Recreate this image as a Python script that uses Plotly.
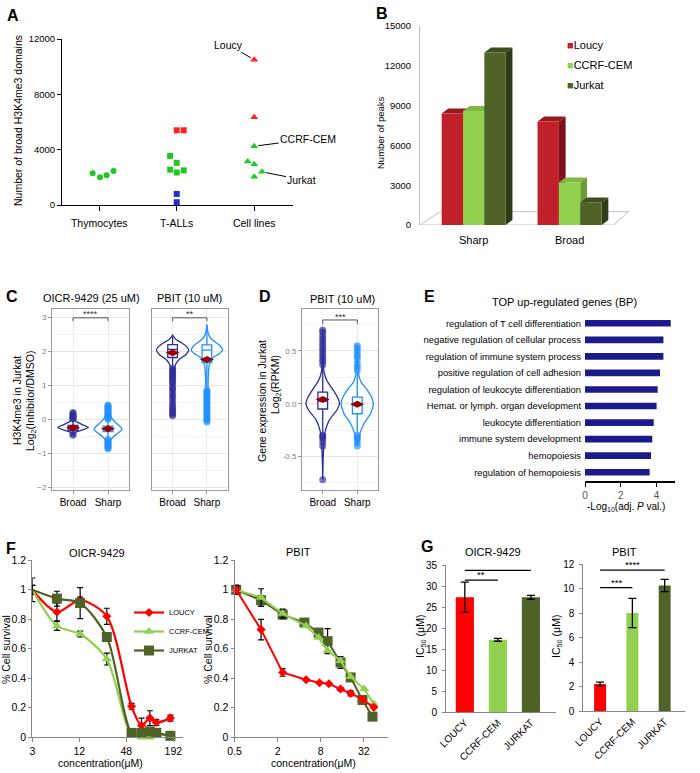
import math
import plotly.graph_objects as go

W, H = 700, 773
FONT = "Liberation Sans, Arial, sans-serif"


def xd(a, b):
    return [a / W, b / W]


def yd(a, b):
    return [1 - b / H, 1 - a / H]


def PX(x):
    return x / W


def PY(y):
    return 1 - y / H


# ====================== DATA ======================
# ---- Panel A ----
A_categories = ["Thymocytes", "T-ALLs", "Cell lines"]
A_thy_vals = [2300, 2000, 2150, 2450]
A_thy_jitter = [-0.085, 0.01, 0.095, 0.185]
A_tall_green_vals = [3550, 3050, 2550, 2350, 2500]
A_tall_green_jitter = [-0.085, 0.0, -0.085, 0.0, 0.09]
A_tall_red_vals = [5400, 5400]
A_tall_red_jitter = [0.0, 0.09]
A_tall_blue_vals = [800, 200]
A_tall_blue_jitter = [0.0, 0.0]
A_cell_red_vals = [10500, 6350]
A_cell_red_jitter = [0.0, 0.0]
A_cell_green_vals = [4250, 3150, 2950, 2050, 2400]
A_cell_green_jitter = [0.0, -0.085, 0.0, 0.0, 0.1]

# ---- Panel B ----
B_groups = ["Sharp", "Broad"]
B_series = ["Loucy", "CCRF-CEM", "Jurkat"]
B_loucy = [8400, 7800]
B_ccrf = [8600, 3200]
B_jurkat = [13000, 1700]

# ---- Panel C / D (violin outlines: y level, half width) ----
C_groups = ["Broad", "Sharp"]
C1_broad_prof_y = [0.15, 0.05, -0.05, -0.15, -0.245, -0.32, -0.38, -0.45]
C1_broad_prof_w = [0.0, 0.02, 0.08, 0.25, 0.44, 0.25, 0.08, 0.0]
C1_broad_box = [-0.45, -0.33, -0.245, -0.18, 0.02]
C1_broad_mean = -0.25
C1_broad_pts = [0.2, 0.17, 0.13, 0.1, 0.07, 0.05, 0.03, 0.01, -0.43, -0.47]

C1_sharp_prof_y = [0.42, 0.3, 0.15, 0.05, -0.1, -0.2, -0.3, -0.4, -0.5, -0.6, -0.75, -0.87]
C1_sharp_prof_w = [0.0, 0.03, 0.05, 0.1, 0.22, 0.33, 0.40, 0.30, 0.17, 0.08, 0.04, 0.0]
C1_sharp_box = [-0.58, -0.36, -0.28, -0.2, 0.0]
C1_sharp_mean = -0.28
C1_sharp_pts = [0.42, 0.39, 0.36, 0.33, 0.30, 0.27, 0.24, 0.21, 0.18, 0.15, 0.12, 0.09,
                0.06, 0.03, 0.0, -0.6, -0.63, -0.66, -0.69, -0.72, -0.75, -0.78, -0.81,
                -0.84, -0.87]

C2_broad_prof_y = [2.48, 2.35, 2.25, 2.14, 2.04, 1.91, 1.76, 1.6, 1.4, 1.0, 0.5, 0.1]
C2_broad_prof_w = [0.0, 0.1, 0.27, 0.41, 0.47, 0.39, 0.19, 0.08, 0.04, 0.02, 0.015, 0.0]
C2_broad_box = [1.4, 1.82, 2.06, 2.2, 2.45]
C2_broad_mean = 1.96
C2_broad_pts = [1.5, 1.45, 1.4, 1.35, 1.3, 1.25, 1.2, 1.15, 1.1, 1.05, 0.95, 0.9, 0.85,
                0.75, 0.68, 0.6, 0.5, 0.42, 0.35, 0.3, 0.25, 0.2, 0.15, 0.1]

C2_sharp_prof_y = [2.8, 2.53, 2.38, 2.28, 2.16, 2.04, 1.94, 1.84, 1.7, 1.55, 1.25, 0.86, 0.0, -0.1]
C2_sharp_prof_w = [0.0, 0.04, 0.12, 0.24, 0.39, 0.46, 0.37, 0.21, 0.10, 0.06, 0.04, 0.03, 0.02, 0.0]
C2_sharp_box = [0.95, 1.67, 2.04, 2.19, 2.75]
C2_sharp_mean = 1.76
C2_sharp_pts = [-0.08, -0.03, 0.02, 0.07, 0.12, 0.17, 0.22, 0.27, 0.32, 0.37, 0.42, 0.47,
                0.52, 0.57, 0.62, 0.67, 0.72, 0.77, 0.82, 0.86]

D_broad_prof_y = [0.7, 0.45, 0.3, 0.22, 0.16, 0.066, 0.0, -0.06, -0.155, -0.25, -0.345, -0.5, -0.72]
D_broad_prof_w = [0.0, 0.01, 0.04, 0.12, 0.24, 0.42, 0.485, 0.41, 0.19, 0.08, 0.04, 0.015, 0.0]
D_broad_box = [-0.3, -0.05, 0.025, 0.11, 0.36]
D_broad_mean = 0.04
D_broad_pts = [0.7, 0.68, 0.65, 0.62, 0.6, 0.57, 0.55, 0.52, 0.5, 0.47, 0.45, 0.42, 0.4,
               0.37, -0.3, -0.31, -0.33, -0.36, -0.4, -0.72]

D_sharp_prof_y = [0.55, 0.35, 0.25, 0.2, 0.13, 0.066, 0.0, -0.09, -0.19, -0.28, -0.36, -0.4]
D_sharp_prof_w = [0.0, 0.02, 0.06, 0.12, 0.29, 0.41, 0.465, 0.39, 0.19, 0.08, 0.03, 0.0]
D_sharp_box = [-0.28, -0.095, -0.01, 0.063, 0.3]
D_sharp_mean = -0.005
D_sharp_pts = [0.55, 0.53, 0.5, 0.47, 0.45, 0.42, 0.38, 0.35, 0.32, -0.3, -0.32, -0.34,
               -0.37, -0.4]

C_sig_labels = ["****", "**"]
C_sig_y = 2.99
D_sig_label = "***"
D_sig_y = 0.794

# ---- Panel E ----
E_terms = ["regulation of T cell differentiation",
           "negative regulation of cellular process",
           "regulation of immune system process",
           "positive regulation of cell adhesion",
           "regulation of leukocyte differentiation",
           "Hemat. or lymph. organ development",
           "leukocyte differentiation",
           "immune system development",
           "hemopoiesis",
           "regulation of hemopoiesis"]
E_vals = [4.79, 4.38, 4.38, 4.19, 4.06, 4.0, 3.84, 3.76, 3.69, 3.61]

# ---- Panel F ----
F_lines = ["LOUCY", "CCRF-CEM", "JURKAT"]
F1_conc = [3, 6.2, 12.3, 27, 56, 75, 96, 116, 176]
F1_loucy = [1.0, 0.85, 0.93, 0.82, 0.21, 0.08, 0.13, 0.10, 0.13]
F1_loucy_err = [0.03, 0.06, 0.02, 0.055, 0.02, 0.05, 0.05, 0.02, 0.02]
F1_ccrf = [1.0, 0.755, 0.70, 0.53, 0.01, 0.0, 0.0, 0.01, 0.02]
F1_ccrf_err = [0.03, 0.03, 0.02, 0.04, 0.01, 0.01, 0.01, 0.01, 0.01]
F1_jurkat = [1.0, 0.94, 0.91, 0.68, 0.03, 0.03, 0.04, 0.03, 0.01]
F1_jurkat_err = [0.08, 0.05, 0.105, 0.03, 0.02, 0.02, 0.02, 0.02, 0.01]

F2_loucy_conc = [0.527, 1.175, 2.35, 5.0, 7.68, 10.4, 15.1, 20.9, 30.6, 44.1]
F2_loucy = [1.0, 0.73, 0.44, 0.39, 0.37, 0.363, 0.327, 0.298, 0.257, 0.203]
F2_loucy_err = [0.03, 0.07, 0.026, 0.0, 0.0, 0.0, 0.01, 0.017, 0.0, 0.0]
F2_ccrf_conc = [0.527, 1.175, 2.35, 5.0, 7.45, 9.97, 15.1, 20.9, 32.3, 44.1]
F2_ccrf = [1.0, 0.947, 0.839, 0.755, 0.676, 0.586, 0.519, 0.41, 0.327, 0.225]
F2_ccrf_err = [0.02, 0.06, 0.03, 0.0, 0.0, 0.0, 0.0, 0.0, 0.0, 0.0]
F2_jurkat_conc = [0.527, 1.175, 2.35, 4.73, 7.45, 9.97, 15.1, 20.9, 30.6, 42.2]
F2_jurkat = [1.0, 0.929, 0.832, 0.778, 0.71, 0.652, 0.507, 0.406, 0.253, 0.14]
F2_jurkat_err = [0.03, 0.03, 0.03, 0.0, 0.0, 0.085, 0.04, 0.02, 0.0, 0.0]

# ---- Panel G ----
G_lines = ["LOUCY", "CCRF-CEM", "JURKAT"]
G_oicr = [27.3, 17.2, 27.3]
G_oicr_err = [3.6, 0.35, 0.45]
G_pbit = [2.2, 8.0, 10.25]
G_pbit_err = [0.15, 1.2, 0.5]
G_oicr_sig = [("**", 0, 1, 31.4), ("ns", 0, 2, 33.7)]
G_pbit_sig = [("***", 0, 1, 10.07), ("****", 0, 2, 11.5)]

# ====================== STYLE ======================
A_GREEN, A_RED, A_BLUE = "#22c822", "#ff2020", "#1f2fcf"
B_FRONT = ["#c0202a", "#92d050", "#4f6228"]
B_SIDE = ["#7e1218", "#6b9a36", "#2f3b17"]
B_TOP = ["#9c1820", "#7fb845", "#3d4d1f"]
C_BROAD, C_SHARP, C_MEAN = "#2e2e99", "#1e90ff", "#990000"
E_BAR = "#1a1a8c"
F_COL = ["#ff0000", "#92d050", "#4f6228"]
F_SYM = ["diamond", "triangle-up", "square"]
F_SIZE = [7, 9, 10]
AX_GRAY = "#868686"

fig = go.Figure()
shapes = []
ann = []


def text(t, x, y, size=10.5, angle=0, color="black", xanchor="center", yanchor="middle", bold=False):
    if bold:
        t = "<b>" + t + "</b>"
    ann.append(dict(text=t, x=PX(x), y=PY(y), xref="paper", yref="paper", showarrow=False,
                    textangle=angle, xanchor=xanchor, yanchor=yanchor,
                    font=dict(size=size, color=color, family=FONT)))


# ---------------- Panel A ----------------
A_pos = {c: i + 1 for i, c in enumerate(A_categories)}


def jit(cat, offs):
    return [A_pos[cat] + o for o in offs]


A_sets = [
    ("Thymocytes", A_thy_vals, A_thy_jitter, "circle", A_GREEN, 6),
    ("T-ALLs", A_tall_green_vals, A_tall_green_jitter, "square", A_GREEN, 6),
    ("T-ALLs", A_tall_red_vals, A_tall_red_jitter, "square", A_RED, 6),
    ("T-ALLs", A_tall_blue_vals, A_tall_blue_jitter, "square", A_BLUE, 6),
    ("Cell lines", A_cell_red_vals, A_cell_red_jitter, "triangle-up", A_RED, 7),
    ("Cell lines", A_cell_green_vals, A_cell_green_jitter, "triangle-up", A_GREEN, 7),
]
for cat, vals, offs, sym, col, sz in A_sets:
    fig.add_trace(go.Scatter(x=jit(cat, offs), y=vals, mode="markers",
                             marker=dict(symbol=sym, color=col, size=sz),
                             xaxis="x", yaxis="y", showlegend=False, cliponaxis=False))

A_label_points = [
    ("Loucy", A_pos["Cell lines"] + A_cell_red_jitter[0], A_cell_red_vals[0], -26, -15),
    ("CCRF-CEM", A_pos["Cell lines"] + A_cell_green_jitter[0], A_cell_green_vals[0], 54, -7),
    ("Jurkat", A_pos["Cell lines"] + A_cell_green_jitter[4], A_cell_green_vals[4], 40, 8),
]
for lab, x, y, ax, ay in A_label_points:
    ann.append(dict(text=lab, x=x, y=y, xref="x", yref="y", showarrow=True, arrowhead=0,
                    arrowwidth=1, arrowcolor="black", ax=ax, ay=ay, standoff=4,
                    font=dict(size=10.5, family=FONT, color="black")))

# ---------------- Panel B ----------------
B_vals = [B_loucy, B_ccrf, B_jurkat]
B_bargap = 0.332
bw = (1 - B_bargap) / 3
dx, dy = 0.07, 377
B_x = list(range(len(B_groups)))
# floor
shapes.append(dict(type="path", xref="x2", yref="y2", layer="below",
                   path="M -0.56,0 L 1.457,0 L 1.614,1003 L -0.35,1003 Z",
                   line=dict(color="#c0c0c0", width=1), fillcolor="white"))
for g in B_x:
    for i in range(3):
        v = B_vals[i][g]
        xc = g + (i - 1) * bw
        x0, x1 = xc - bw / 2, xc + bw / 2
        shapes.append(dict(type="path", xref="x2", yref="y2", layer="below",
                           path=f"M {x1},0 L {x1 + dx},{dy} L {x1 + dx},{v + dy} L {x1},{v} Z",
                           line=dict(width=0), fillcolor=B_SIDE[i]))
        shapes.append(dict(type="path", xref="x2", yref="y2", layer="below",
                           path=f"M {x0},{v} L {x0 + dx},{v + dy} L {x1 + dx},{v + dy} L {x1},{v} Z",
                           line=dict(width=0), fillcolor=B_TOP[i]))
for i, name in enumerate(B_series):
    fig.add_trace(go.Bar(x=B_x, y=B_vals[i], name=name, marker=dict(color=B_FRONT[i], line=dict(width=0)),
                         xaxis="x2", yaxis="y2", showlegend=False, offsetgroup=str(i)))
for i, name in enumerate(B_series):
    text(f"<span style='color:{B_FRONT[i]}'>■</span>{name}", 565, 45 + 20 * i, size=11, xanchor="left")


# ---------------- Panels C / D ----------------
def violin_set(xa, ya, xc, prof_y, prof_w, box, mean, pts, color):
    xs = [xc + w for w in prof_w] + [xc - w for w in reversed(prof_w)]
    ys = list(prof_y) + list(reversed(prof_y))
    xs.append(xs[0])
    ys.append(ys[0])
    fig.add_trace(go.Scatter(x=xs, y=ys, mode="lines",
                             line=dict(color=color, width=1.3, shape="spline", smoothing=0.7),
                             xaxis=xa, yaxis=ya, showlegend=False, hoverinfo="skip"))
    fig.add_trace(go.Scatter(x=[xc] * len(pts), y=pts, mode="markers",
                             marker=dict(color=color, size=7, opacity=0.65, line=dict(width=0)),
                             xaxis=xa, yaxis=ya, showlegend=False, cliponaxis=False))
    fig.add_trace(go.Box(x=[xc], lowerfence=[box[0]], q1=[box[1]], median=[box[2]], q3=[box[3]],
                         upperfence=[box[4]], width=0.28, fillcolor="white", whiskerwidth=0,
                         line=dict(color=color, width=1.3), boxpoints=False,
                         xaxis=xa, yaxis=ya, showlegend=False))
    fig.add_trace(go.Scatter(x=[xc], y=[mean], mode="markers",
                             marker=dict(symbol="diamond-wide", color=C_MEAN, size=10),
                             xaxis=xa, yaxis=ya, showlegend=False))


violin_set("x3", "y3", 1, C1_broad_prof_y, C1_broad_prof_w, C1_broad_box, C1_broad_mean, C1_broad_pts, C_BROAD)
violin_set("x3", "y3", 2, C1_sharp_prof_y, C1_sharp_prof_w, C1_sharp_box, C1_sharp_mean, C1_sharp_pts, C_SHARP)
violin_set("x4", "y4", 1, C2_broad_prof_y, C2_broad_prof_w, C2_broad_box, C2_broad_mean, C2_broad_pts, C_BROAD)
violin_set("x4", "y4", 2, C2_sharp_prof_y, C2_sharp_prof_w, C2_sharp_box, C2_sharp_mean, C2_sharp_pts, C_SHARP)
violin_set("x5", "y5", 1, D_broad_prof_y, D_broad_prof_w, D_broad_box, D_broad_mean, D_broad_pts, C_BROAD)
violin_set("x5", "y5", 2, D_sharp_prof_y, D_sharp_prof_w, D_sharp_box, D_sharp_mean, D_sharp_pts, C_SHARP)


def bracket(xa, ya, y, leg, label, lab_off):
    shapes.append(dict(type="path", xref=xa, yref=ya,
                       path=f"M 1,{y - leg} L 1,{y} L 2,{y} L 2,{y - leg}",
                       line=dict(color="#555555", width=1)))
    ann.append(dict(text=label, x=1.5, y=y + lab_off, xref=xa, yref=ya, showarrow=False,
                    font=dict(size=9, color="#333333", family=FONT)))


bracket("x3", "y3", C_sig_y, 0.1, C_sig_labels[0], 0.1)
bracket("x4", "y4", C_sig_y, 0.1, C_sig_labels[1], 0.1)
bracket("x5", "y5", D_sig_y, 0.04, D_sig_label, 0.03)

# ---------------- Panel E ----------------
fig.add_trace(go.Bar(y=E_terms, x=E_vals, orientation="h", width=0.4,
                     marker=dict(color=E_BAR, line=dict(width=0)),
                     xaxis="x6", yaxis="y6", showlegend=False))

# ---------------- Panel F ----------------
F1_sets = [(F1_loucy, F1_loucy_err), (F1_ccrf, F1_ccrf_err), (F1_jurkat, F1_jurkat_err)]
for i, (vals, err) in enumerate(F1_sets):
    fig.add_trace(go.Scatter(x=F1_conc, y=vals, name=F_lines[i], mode="lines+markers",
                             line=dict(color=F_COL[i], width=2.2, shape="spline", smoothing=0.8),
                             marker=dict(symbol=F_SYM[i], size=F_SIZE[i], color=F_COL[i]),
                             error_y=dict(type="data", array=err, color="black", thickness=1.2, width=3),
                             xaxis="x7", yaxis="y7", showlegend=True, cliponaxis=False))
F2_sets = [(F2_loucy_conc, F2_loucy, F2_loucy_err), (F2_ccrf_conc, F2_ccrf, F2_ccrf_err),
           (F2_jurkat_conc, F2_jurkat, F2_jurkat_err)]
for i in [2, 1, 0]:
    xs, vals, err = F2_sets[i]
    fig.add_trace(go.Scatter(x=xs, y=vals, name=F_lines[i], mode="lines+markers",
                             line=dict(color=F_COL[i], width=2),
                             marker=dict(symbol=F_SYM[i], size=F_SIZE[i], color=F_COL[i]),
                             error_y=dict(type="data", array=err, color="black", thickness=1.2, width=3),
                             xaxis="x8", yaxis="y8", showlegend=False, cliponaxis=False))

# ---------------- Panel G ----------------
G_x = list(range(len(G_lines)))
fig.add_trace(go.Bar(x=G_x, y=G_oicr, width=0.55, marker=dict(color=F_COL, line=dict(width=0)),
                     error_y=dict(type="data", array=G_oicr_err, color="black", thickness=1.3, width=4),
                     xaxis="x9", yaxis="y9", showlegend=False))
fig.add_trace(go.Bar(x=G_x, y=G_pbit, width=0.37, marker=dict(color=F_COL, line=dict(width=0)),
                     error_y=dict(type="data", array=G_pbit_err, color="black", thickness=1.3, width=4),
                     xaxis="x10", yaxis="y10", showlegend=False))
for xa, ya, sigs, dyl in [("x9", "y9", G_oicr_sig, 1.4), ("x10", "y10", G_pbit_sig, 0.45)]:
    for lab, a, b, y in sigs:
        shapes.append(dict(type="line", xref=xa, yref=ya, x0=a, x1=b, y0=y, y1=y,
                           line=dict(color="black", width=1.2)))
        ann.append(dict(text=lab, x=(a + b) / 2, y=y + dyl, xref=xa, yref=ya, showarrow=False,
                        font=dict(size=9.5, color="black", family=FONT)))

# ====================== TEXT ======================
for lab, x, y in [("A", 5, 5), ("B", 374, 3), ("C", 4, 286), ("D", 257, 286), ("E", 422, 286),
                  ("F", 4, 538), ("G", 419, 536)]:
    text(lab, x, y, size=16, bold=True, xanchor="left", yanchor="top")

text("Number of broad H3K4me3 domains", 18, 121, size=10.5, angle=-90)
text("Number of peaks", 381, 133, size=9.5, angle=-90)
text("OICR-9429 (25 uM)", 91, 298, size=11)
text("PBIT (10 uM)", 190, 298, size=11)
text("PBIT (10 uM)", 342, 299, size=11)
text("H3K4me3 in Jurkat", 17, 401, size=10.5, angle=-90)
text("Log<sub>2</sub>(Inhibitor/DMSO)", 31, 401, size=10.5, angle=-90)
text("Gene expression in Jurkat", 262, 401, size=10.5, angle=-90)
text("Log<sub>2</sub>(RPKM)", 276, 385, size=10.5, angle=-90)
text("TOP up-regulated genes (BP)", 564, 302, size=11)
text("-Log<sub>10</sub>(adj. <i>P</i> val.)", 626, 507, size=10)
text("OICR-9429", 97, 553, size=11)
text("PBIT", 298, 552, size=11)
text("% Cell survival", 6, 650, size=10.5, angle=-90)
text("% Cell survival", 208, 650, size=10.5, angle=-90)
text("concentration(μM)", 100, 763, size=10.5)
text("concentration(μM)", 313, 763, size=10.5)
text("OICR-9429", 493, 552, size=11)
text("PBIT", 624, 552, size=11)
text("IC<sub>50</sub> (μM)", 421, 637, size=10.5, angle=-90)
text("IC<sub>50</sub> (μM)", 557, 637, size=10.5, angle=-90)

# ====================== AXES ======================
base_font = dict(family=FONT, color="black")


def tf(size, color="black"):
    return dict(family=FONT, size=size, color=color)


ggx = dict(showline=True, mirror=True, linecolor="#999999", linewidth=1, ticks="outside", ticklen=3,
           tickcolor="#999999", showgrid=True, gridcolor="#ebebeb", zeroline=False, tickfont=tf(10),
           tickvals=[1, 2], ticktext=C_groups, range=[0.4, 2.6], automargin=False)
ggy = dict(showline=True, mirror=True, linecolor="#999999", linewidth=1, ticks="outside", ticklen=3,
           tickcolor="#999999", showgrid=True, gridcolor="#e6e6e6", zeroline=False,
           tickfont=tf(8, "#808080"), automargin=False)

layout = dict(
    template="none",
    width=W, height=H, margin=dict(l=0, r=0, t=0, b=0, pad=0, autoexpand=False), autosize=False,
    paper_bgcolor="white", plot_bgcolor="white", font=base_font,
    barmode="group", bargap=B_bargap, bargroupgap=0,
    showlegend=True,
    legend=dict(x=PX(129), y=PY(598), xanchor="left", yanchor="top", font=tf(7.5),
                bgcolor="rgba(0,0,0,0)", itemwidth=30, tracegroupgap=0, borderwidth=0),
    # A
    xaxis=dict(domain=xd(62, 293), range=[0.52, 3.5], tickvals=[1, 2, 3], ticktext=A_categories,
               showline=True, linecolor="black", ticks="outside", ticklen=5, tickcolor="black",
               showgrid=False, zeroline=False, tickfont=tf(10.5), anchor="y", ticklabelstandoff=3,
               automargin=False),
    yaxis=dict(domain=yd(39, 205), range=[0, 12000], tickvals=[0, 4000, 8000, 12000], tickformat="d",
               showline=True, linecolor="black", ticks="outside", ticklen=4, tickcolor="black",
               showgrid=False, zeroline=False, tickfont=tf(9.5), anchor="x", automargin=False),
    # B
    xaxis2=dict(domain=xd(420, 630), range=[-0.56, 1.63], tickvals=B_x, ticktext=B_groups,
                showline=False, ticks="outside", ticklen=5, tickcolor="rgba(0,0,0,0)",
                showgrid=False, zeroline=False, tickfont=tf(11), anchor="y2", automargin=False),
    yaxis2=dict(domain=yd(26, 225), range=[0, 15000], tickvals=[0, 3000, 6000, 9000, 12000, 15000],
                tickformat="d", showline=True, linecolor="#c0c0c0", ticks="", showgrid=False,
                zeroline=False, tickfont=tf(9.5), anchor="x2", ticklabelstandoff=6, automargin=False),
    # C1, C2, D
    xaxis3=dict(ggx, domain=xd(52, 129), anchor="y3"),
    yaxis3=dict(ggy, domain=yd(309, 490), range=[-2.085, 3.25], tickvals=[-2, -1, 0, 1, 2, 3],
                minor=dict(dtick=0.5, showgrid=True, gridcolor="#f3f3f3", ticks=""), anchor="x3"),
    xaxis4=dict(ggx, domain=xd(152, 227.5), anchor="y4"),
    yaxis4=dict(ggy, domain=yd(309, 490), range=[-2.085, 3.25], tickvals=[-2, -1, 0, 1, 2, 3],
                showticklabels=False, minor=dict(dtick=0.5, showgrid=True, gridcolor="#f3f3f3", ticks=""),
                ticks="", anchor="x4"),
    xaxis5=dict(ggx, domain=xd(302, 378), anchor="y5"),
    yaxis5=dict(ggy, domain=yd(309, 490), range=[-0.818, 0.898], tickvals=[-0.5, 0, 0.5],
                ticktext=["-0.5", "0.0", "0.5"],
                minor=dict(dtick=0.25, showgrid=True, gridcolor="#f3f3f3", ticks=""), anchor="x5"),
    # E
    xaxis6=dict(domain=xd(585, 674.5), range=[0, 5], tickvals=[0, 2, 4], showline=True,
                linecolor="black", linewidth=1.5, ticks="outside", ticklen=4, tickcolor="black",
                showgrid=False, zeroline=False, tickfont=tf(10, "#555555"), anchor="y6", automargin=False),
    yaxis6=dict(domain=yd(315, 481), type="category", categoryorder="array", categoryarray=E_terms,
                range=[9.53, -0.5], showline=False, ticks="", showgrid=False, zeroline=False,
                tickfont=tf(9.4), anchor="x6", ticklabelstandoff=3, automargin=False),
    # F
    xaxis7=dict(domain=xd(32.3, 182.7), type="log", range=[math.log10(3), 2.403],
                tickvals=[3, 12, 48, 192], ticktext=["3", "12", "48", "192"], showline=True,
                linecolor=AX_GRAY, ticks="outside", ticklen=4, tickcolor=AX_GRAY, showgrid=False,
                zeroline=False, tickfont=tf(10.5), anchor="y7", automargin=False),
    yaxis7=dict(domain=yd(560.3, 737.3), range=[0, 1.2], dtick=0.2, showline=True, linecolor=AX_GRAY,
                ticks="outside", ticklen=3, tickcolor=AX_GRAY, showgrid=False, zeroline=False,
                tickfont=tf(10.5), anchor="x7", automargin=False),
    xaxis8=dict(domain=xd(234.5, 388), type="log", range=[math.log10(0.5), 1.842],
                tickvals=[0.5, 2, 8, 32], ticktext=["0.5", "2", "8", "32"], showline=True,
                linecolor=AX_GRAY, ticks="outside", ticklen=4, tickcolor=AX_GRAY, showgrid=False,
                zeroline=False, tickfont=tf(10.5), anchor="y8", automargin=False),
    yaxis8=dict(domain=yd(560.3, 737.3), range=[0, 1.2], dtick=0.2, showline=True, linecolor=AX_GRAY,
                ticks="outside", ticklen=3, tickcolor=AX_GRAY, showgrid=False, zeroline=False,
                tickfont=tf(10.5), anchor="x8", automargin=False),
    # G
    xaxis9=dict(domain=xd(446, 556), range=[-0.57, 2.76], tickvals=G_x, ticktext=G_lines,
                tickangle=-45, showline=True, linecolor=AX_GRAY, ticks="", showgrid=False,
                zeroline=False, tickfont=tf(10), anchor="y9", automargin=False),
    yaxis9=dict(domain=yd(565, 712), range=[0, 35], dtick=5, showline=True, linecolor=AX_GRAY,
                ticks="outside", ticklen=3, tickcolor=AX_GRAY, showgrid=False, zeroline=False,
                tickfont=tf(10), anchor="x9", ticklabelstandoff=3, automargin=False),
    xaxis10=dict(domain=xd(583.3, 685), range=[-0.52, 2.63], tickvals=G_x, ticktext=G_lines,
                 tickangle=-45, showline=True, linecolor=AX_GRAY, ticks="", showgrid=False,
                 zeroline=False, tickfont=tf(10), anchor="y10", automargin=False),
    yaxis10=dict(domain=yd(564, 711), range=[0, 12], dtick=2, showline=True, linecolor=AX_GRAY,
                 ticks="outside", ticklen=3, tickcolor=AX_GRAY, showgrid=False, zeroline=False,
                 tickfont=tf(10), anchor="x10", ticklabelstandoff=3, automargin=False),
    shapes=shapes,
    annotations=ann,
)
fig.update_layout(**layout)
fig.write_html("out.html", config={"displayModeBar": False},
               post_script="document.body.style.margin='0';document.body.style.overflow='hidden';")
